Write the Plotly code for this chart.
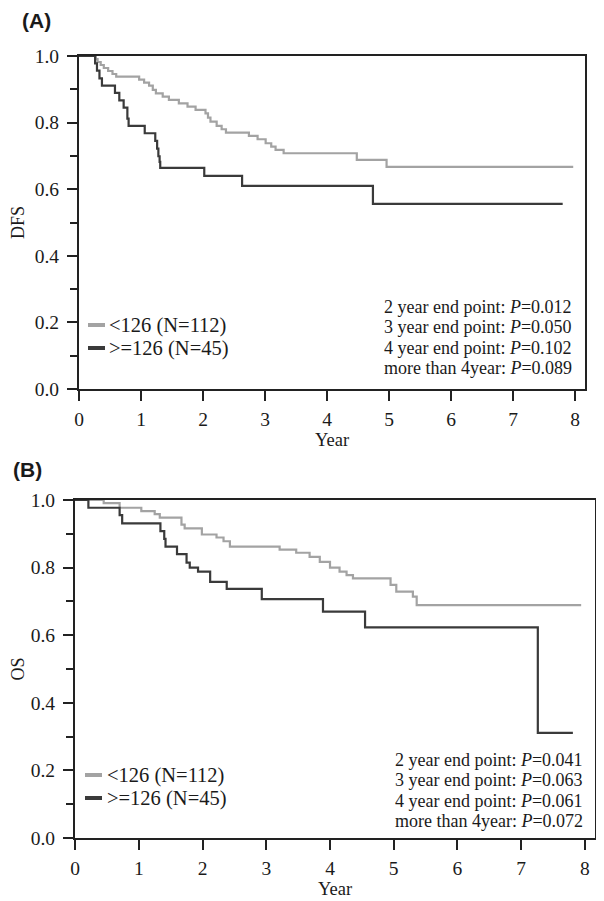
import plotly.graph_objects as go

# ---------------- data ----------------
# Panel A (DFS)
dfs_low_t = [0, 0.27, 0.30, 0.35, 0.40, 0.47, 0.54, 0.60, 0.645, 0.97, 1.05, 1.13, 1.19, 1.24,
             1.35, 1.45, 1.61, 1.75, 1.88, 2.04, 2.08, 2.12, 2.22, 2.30, 2.37, 2.74, 2.88,
             3.01, 3.10, 3.17, 3.30, 4.48, 4.96, 7.97]
dfs_low_s = [1.0, 0.991, 0.982, 0.973, 0.964, 0.955, 0.946, 0.938, 0.938, 0.929, 0.920, 0.911,
             0.898, 0.888, 0.878, 0.868, 0.858, 0.848, 0.838, 0.828, 0.815, 0.803, 0.790, 0.780,
             0.770, 0.760, 0.750, 0.738, 0.728, 0.718, 0.708, 0.688, 0.667, 0.667]
dfs_high_t = [0, 0.26, 0.29, 0.33, 0.37, 0.58, 0.65, 0.72, 0.78, 0.80, 1.06, 1.23, 1.26, 1.28,
              1.30, 1.31, 2.02, 2.63, 4.74, 7.80]
dfs_high_s = [1.0, 0.978, 0.956, 0.933, 0.911, 0.889, 0.867, 0.845, 0.812, 0.790, 0.768, 0.745,
              0.722, 0.699, 0.682, 0.664, 0.640, 0.610, 0.556, 0.556]

# Panel B (OS)
os_low_t = [0, 0.45, 0.70, 1.04, 1.25, 1.33, 1.67, 1.72, 1.99, 2.22, 2.33, 2.43, 3.21, 3.47,
            3.68, 3.84, 4.00, 4.15, 4.26, 4.36, 4.95, 5.04, 5.30, 5.36, 7.94]
os_low_s = [1.0, 0.991, 0.977, 0.967, 0.958, 0.948, 0.927, 0.916, 0.898, 0.889, 0.878, 0.862,
            0.853, 0.844, 0.832, 0.817, 0.800, 0.788, 0.778, 0.768, 0.749, 0.729, 0.714, 0.689,
            0.689]
os_high_t = [0, 0.21, 0.70, 0.74, 1.34, 1.40, 1.42, 1.60, 1.75, 1.80, 1.93, 2.12, 2.38, 2.93,
             3.89, 4.55, 7.26, 7.81]
os_high_s = [1.0, 0.977, 0.955, 0.931, 0.908, 0.885, 0.862, 0.840, 0.815, 0.800, 0.788, 0.758,
             0.737, 0.707, 0.670, 0.623, 0.311, 0.311]

group_names = ["<126 (N=112)", ">=126 (N=45)"]
x_ticks = [0, 1, 2, 3, 4, 5, 6, 7, 8]
y_ticks = [0.0, 0.2, 0.4, 0.6, 0.8, 1.0]
p_lines = ["2 year end point: ", "3 year end point: ", "4 year end point: ", "more than 4year: "]
dfs_p = ["0.012", "0.050", "0.102", "0.089"]
os_p = ["0.041", "0.063", "0.061", "0.072"]

# ---------------- style ----------------
W, H = 604, 901
OFF = 8  # page body margin
GRAY = "#a3a3a3"
DARK = "#3a3a3a"
SERIF = "Liberation Serif"
TXT = "#1a1a1a"

def px_x(p):
    return (p - OFF) / W

def px_y(p):
    return 1 - (p - OFF) / H

fig = go.Figure()
fig.add_trace(go.Scatter(x=dfs_low_t, y=dfs_low_s, mode="lines", line=dict(color=GRAY, width=2.2, shape="hv"),
                         name=group_names[0], showlegend=False, xaxis="x", yaxis="y"))
fig.add_trace(go.Scatter(x=dfs_high_t, y=dfs_high_s, mode="lines", line=dict(color=DARK, width=2.2, shape="hv"),
                         name=group_names[1], showlegend=False, xaxis="x", yaxis="y"))
fig.add_trace(go.Scatter(x=os_low_t, y=os_low_s, mode="lines", line=dict(color=GRAY, width=2.2, shape="hv"),
                         name=group_names[0], showlegend=False, xaxis="x2", yaxis="y2"))
fig.add_trace(go.Scatter(x=os_high_t, y=os_high_s, mode="lines", line=dict(color=DARK, width=2.2, shape="hv"),
                         name=group_names[1], showlegend=False, xaxis="x2", yaxis="y2"))

tickfont = dict(family=SERIF, size=19.5, color=TXT)

def xax(domain, anchor, rng):
    return dict(domain=domain, anchor=anchor, range=rng, tickvals=x_ticks, ticks="outside",
                ticklen=10, tickwidth=1.5, tickcolor="#222", showline=True, linewidth=2,
                linecolor="#222", mirror=True, showgrid=False, zeroline=False, tickfont=tickfont,
                ticklabelstandoff=2,
                title=dict(text="Year", font=dict(family=SERIF, size=18.5, color=TXT), standoff=3),
                automargin=False)

def yax(domain, anchor, title):
    return dict(domain=domain, anchor=anchor, range=[0, 1.0], tickvals=y_ticks, tickformat=".1f",
                ticks="outside", ticklen=10, tickwidth=1.5, tickcolor="#222", showline=True,
                linewidth=2, linecolor="#222", mirror=True, showgrid=False, zeroline=False,
                tickfont=tickfont, ticklabelstandoff=4,
                minor=dict(dtick=0.1, ticks="outside", ticklen=7, tickwidth=1.5, tickcolor="#222", showgrid=False),
                title=dict(text=title, font=dict(family=SERIF, size=18, color=TXT), standoff=8),
                automargin=False)

fig.update_layout(
    width=W, height=H,
    margin=dict(l=0, r=0, t=0, b=0),
    paper_bgcolor="white", plot_bgcolor="white",
    showlegend=False,
    xaxis=xax([px_x(79), px_x(585)], "y", [0, 8.16]),
    yaxis=yax([px_y(389), px_y(56)], "x", "DFS"),
    xaxis2=xax([px_x(75), px_x(595)], "y2", [0, 8.157]),
    yaxis2=yax([px_y(838), px_y(500)], "x2", "OS"),
)

ann = []
shapes = []
# panel labels
ann.append(dict(text="<b>(A)</b>", x=px_x(20), y=px_y(21), xref="paper", yref="paper", xanchor="left",
                yanchor="middle", showarrow=False, font=dict(family="Liberation Sans", size=21, color=TXT)))
ann.append(dict(text="<b>(B)</b>", x=px_x(11), y=px_y(469), xref="paper", yref="paper", xanchor="left",
                yanchor="middle", showarrow=False, font=dict(family="Liberation Sans", size=21, color=TXT)))

# legends
for (y0, sym_x0, txt_x) in [(325, 88, 107), (775, 85, 105)]:
    for i, (name, col) in enumerate(zip(group_names, [GRAY, DARK])):
        yy = y0 + i * 23
        shapes.append(dict(type="line", xref="paper", yref="paper", x0=px_x(sym_x0), x1=px_x(sym_x0 + 17),
                           y0=px_y(yy), y1=px_y(yy), line=dict(color=col, width=4)))
        ann.append(dict(text=name, x=px_x(txt_x), y=px_y(yy), xref="paper", yref="paper", xanchor="left",
                        yanchor="middle", showarrow=False, font=dict(family=SERIF, size=20.5, color=TXT)))

# p-value annotations
for (ps, y0, xr) in [(dfs_p, 307, 574), (os_p, 760, 585)]:
    for i, (lbl, p) in enumerate(zip(p_lines, ps)):
        ann.append(dict(text=f"{lbl}<i>P</i>={p}", x=px_x(xr), y=px_y(y0 + i * 20.4), xref="paper",
                        yref="paper", xanchor="right", yanchor="middle", showarrow=False,
                        font=dict(family=SERIF, size=18, color=TXT)))

fig.update_layout(annotations=ann, shapes=shapes)
fig.write_html("out.html")
